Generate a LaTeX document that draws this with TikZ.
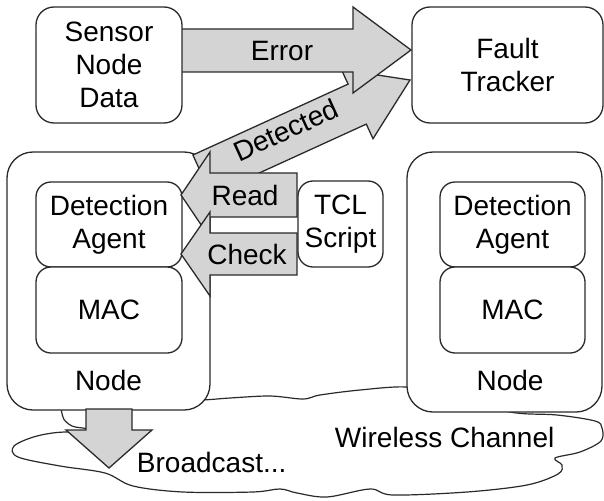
\documentclass[tikz,border=0pt]{standalone}
\usepackage{fontspec}
\setmainfont{Liberation Sans}
\definecolor{lc}{HTML}{2A2A2A}
\definecolor{gf}{HTML}{D4D4D4}
\begin{document}
\begin{tikzpicture}[x=1pt,y=-1pt,line width=1.3pt,
  every node/.style={font=\fontsize{28}{33}\selectfont, text=black, align=center},
  topbox/.style={draw=lc, fill=white, rounded corners=18pt, inner sep=0pt},
  outerbox/.style={draw=lc, fill=white, rounded corners=26pt, inner sep=0pt},
  innerbox/.style={draw=lc, fill=white, rounded corners=15pt, inner sep=0pt},
  fat/.style={draw=lc, fill=gf, line join=miter},
  cloudline/.style={draw=lc, fill=white, line width=1.2pt}]
\useasboundingbox (0,0) rectangle (604,500);

% wireless channel cloud
\path[cloudline] plot[smooth cycle, tension=0.55] coordinates {
 (70,405) (63,417) (72,426) (88,429) (105,436) (67,432) (37,436) (14,446) (18,457)
 (60,466) (105,473) (133,486) (183,492) (253,492) (280,489) (297,493) (327,497)
 (370,489) (393,495) (467,492) (527,485) (558,474) (562,465) (555,458) (580,452)
 (601,441) (602,428) (595,421) (557,415) (510,412) (450,395) (407,387) (360,390)
 (320,395) (303,399) (270,396) (230,398) (200,400) (150,400)};

% node containers
\node[outerbox, minimum width=203, minimum height=258] (nodeL) at (108.5,281) {};
\node[outerbox, minimum width=195, minimum height=260] (nodeR) at (504.5,282) {};
\node[innerbox, minimum width=146, minimum height=85] (daL) at (109,224.5) {Detection\\Agent};
\node[innerbox, minimum width=146, minimum height=86] (macL) at (109,310) {MAC};
\node[innerbox, minimum width=145, minimum height=85] (daR) at (512.5,224.5) {Detection\\Agent};
\node[innerbox, minimum width=145, minimum height=86] (macR) at (512.5,310) {MAC};
\node (nlabL) at (108.5,380) {Node};
\node (nlabR) at (510,380) {Node};
\node[innerbox, minimum width=85, minimum height=86] (tcl) at (340.5,224) {TCL\\Script};

% Detected arrow
\path[fat] (192.9,155.0) -- (348.1,84.1) -- (341.4,69.5) -- (410,80) -- (373.0,138.7)
  -- (366.3,124.1) -- (211.1,195.0) -- cycle;
% Read and Check arrows
\path[fat] (297,173) -- (210,173) -- (210,152) -- (181,195) -- (210,238) -- (210,217) -- (297,217) -- cycle;
\path[fat] (297,233) -- (210,233) -- (210,212) -- (181,254) -- (210,296) -- (210,275) -- (297,275) -- cycle;
% Error arrow
\path[fat] (180,29) -- (353,29) -- (353,7) -- (411,50) -- (353,93) -- (353,72) -- (180,72) -- cycle;

% top boxes
\node[topbox, minimum width=146, minimum height=116] (sensor) at (109,65) {Sensor\\Node\\Data};
\node[topbox, minimum width=191, minimum height=116] (fault) at (507.5,65) {Fault\\Tracker};

% Broadcast arrow
\path[fat] (86,409) -- (132,409) -- (132,430) -- (152,430) -- (109,468) -- (66,430) -- (86,430) -- cycle;

% arrow labels
\node (err) at (282,51) {Error};
\node[rotate=24.5] (det) at (286,130) {Detected};
\node (rd) at (245,195) {Read};
\node (chk) at (247,254) {Check};
\node[anchor=west] (bc) at (133,462) {Broadcast...};
\node[anchor=west] (wc) at (331,437) {Wireless Channel};
\end{tikzpicture}
\end{document}
